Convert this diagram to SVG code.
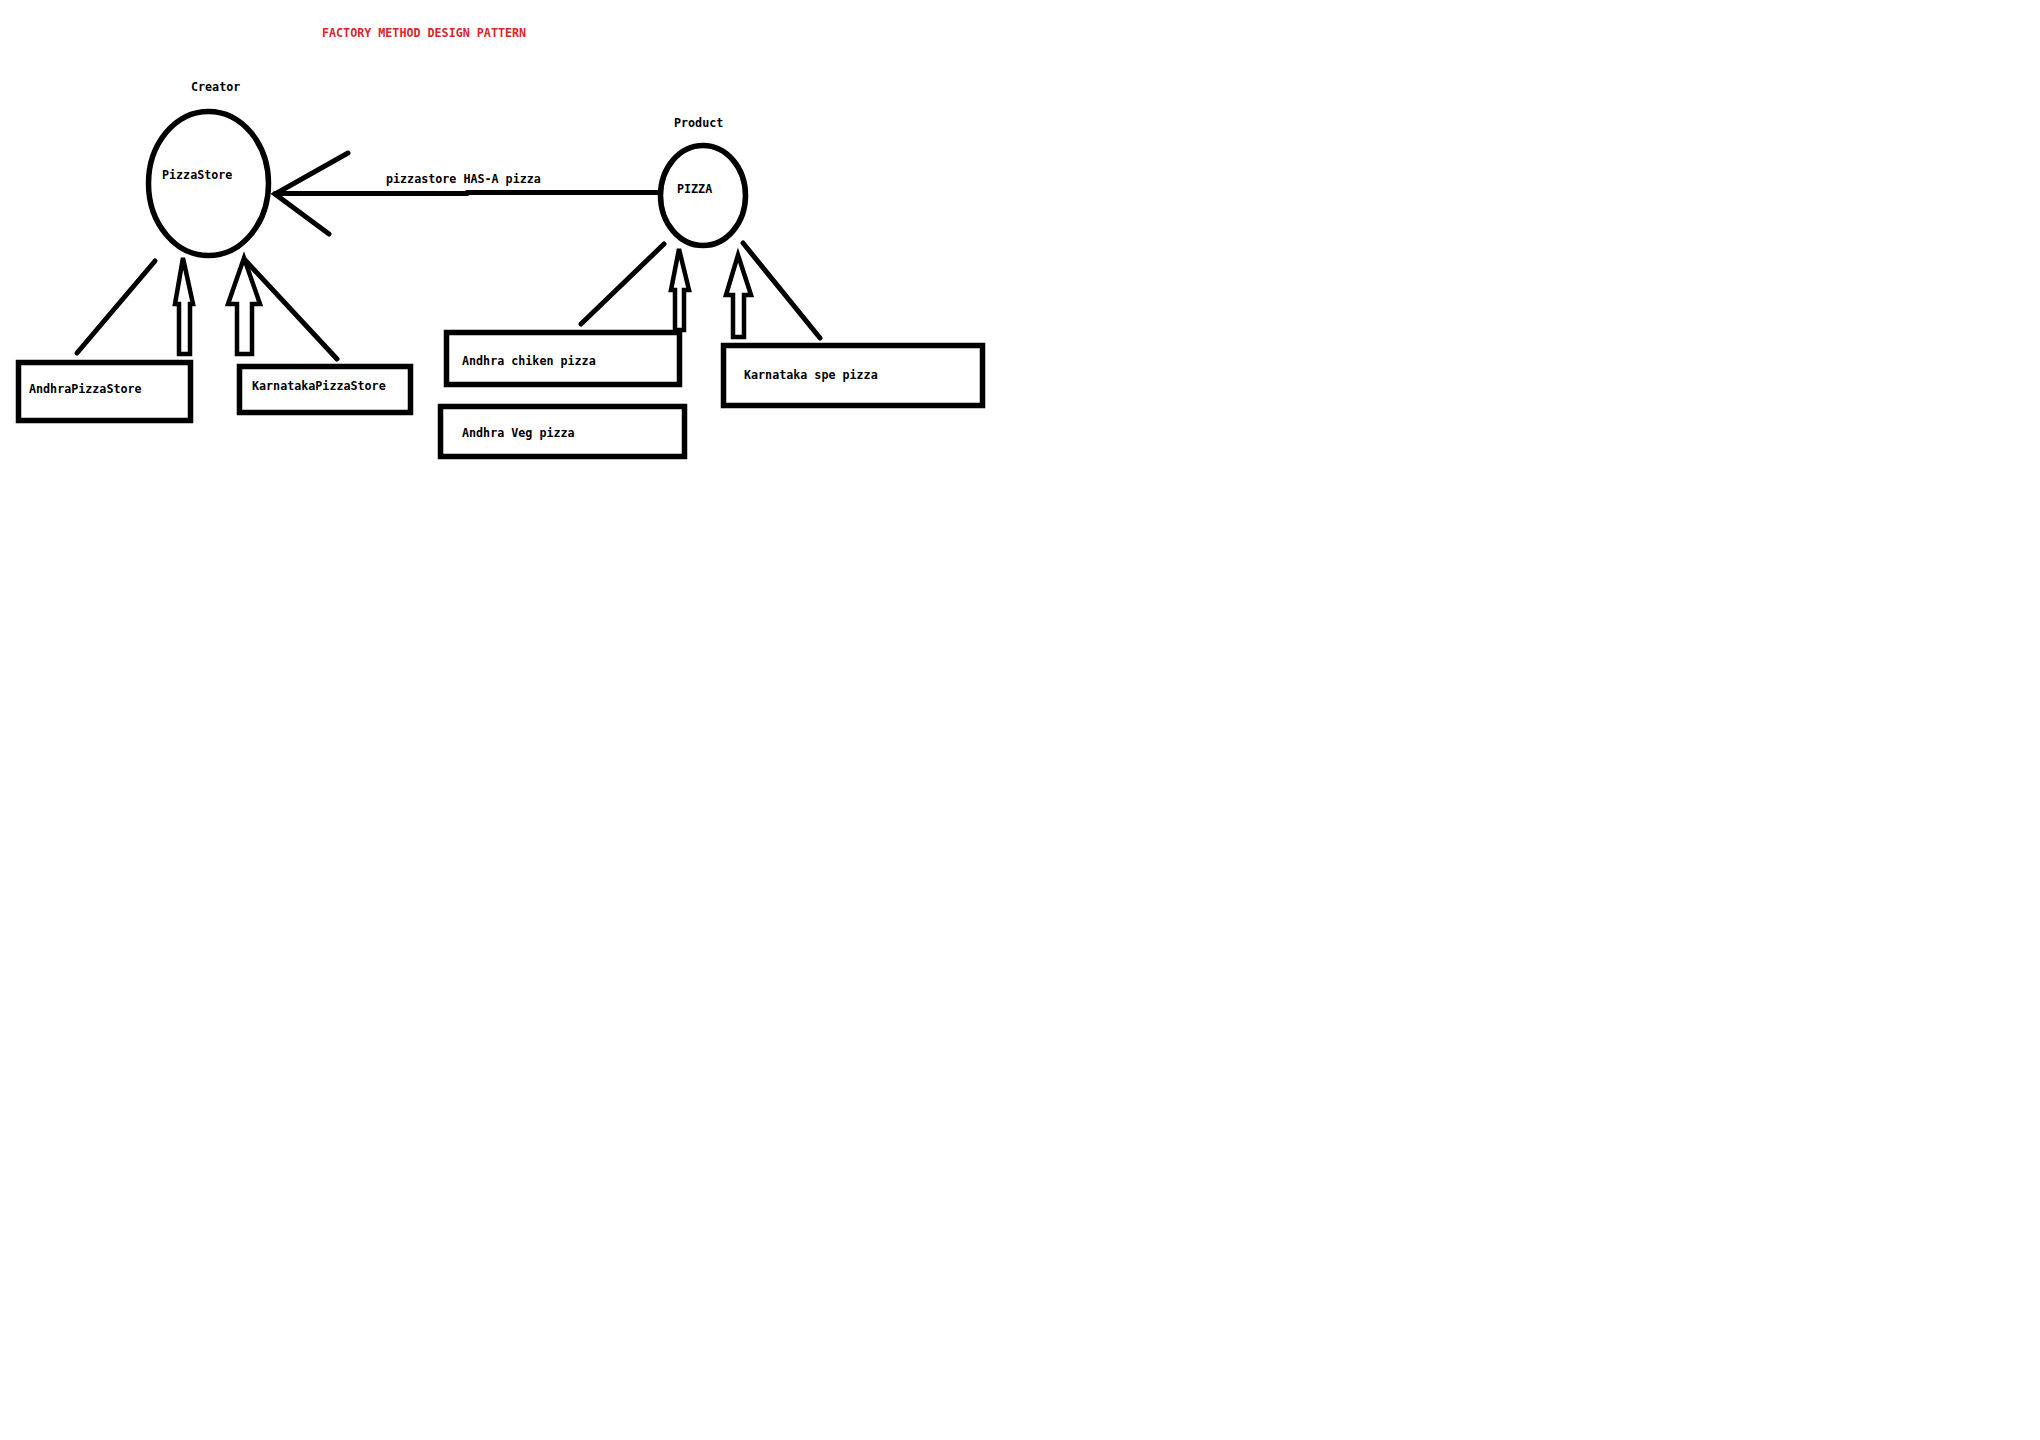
<svg xmlns="http://www.w3.org/2000/svg" width="2040" height="1440" viewBox="0 0 2040 1440">
<style>
.t{font-family:"DejaVu Sans Mono","Liberation Mono",monospace;font-size:11.7px;font-weight:bold;fill:#000}
.title{fill:#d9262b}
.shape{fill:#fff;stroke:#000;stroke-width:5.5}
.ln{fill:none;stroke:#000;stroke-width:5;stroke-linecap:round}
.hol{fill:#fff;stroke:#000;stroke-width:4.5;stroke-linejoin:miter}
</style>
<rect width="2040" height="1440" fill="#fff"/>
<text class="t title" x="322" y="37">FACTORY METHOD DESIGN PATTERN</text>
<text class="t" x="191" y="91">Creator</text>
<text class="t" x="674" y="127">Product</text>
<g id="connectors">
<line class="ln" x1="275" y1="193.5" x2="467" y2="193.5"/>
<line class="ln" x1="467" y1="192.5" x2="658" y2="192.5"/>
<polyline class="ln" points="348,153 275,194 329,234"/>
<text class="t" x="386" y="183">pizzastore HAS-A pizza</text>
<line class="ln" x1="155" y1="261" x2="77" y2="353"/>
<line class="ln" x1="245" y1="260" x2="337" y2="359"/>
<polygon class="hol" points="183,258 193,304 190,304 190,354 179,354 179,304 175,304"/>
<polygon class="hol" points="244,258 260,304 252,304 252,354 237,354 237,304 228,304"/>
<line class="ln" x1="664" y1="244" x2="581" y2="324"/>
<line class="ln" x1="743" y1="243" x2="820" y2="338"/>
<polygon class="hol" points="679,249 689,290 684,290 684,330 675,330 675,290 671,290"/>
<polygon class="hol" points="738,255 751,295 744,295 744,337 733,337 733,295 726,295"/>
</g>
<g id="pizzastore">
<ellipse class="shape" cx="208.5" cy="183.5" rx="60" ry="72"/>
<text class="t" x="162" y="179">PizzaStore</text>
</g>
<g id="pizza">
<ellipse class="shape" cx="703" cy="195.5" rx="42.5" ry="50"/>
<text class="t" x="677" y="193">PIZZA</text>
</g>
<g id="andhrapizzastore">
<rect class="shape" x="18.5" y="362.5" width="172" height="58"/>
<text class="t" x="29" y="393">AndhraPizzaStore</text>
</g>
<g id="karnatakapizzastore">
<rect class="shape" x="239.5" y="366.5" width="171" height="46"/>
<text class="t" x="252" y="390">KarnatakaPizzaStore</text>
</g>
<g id="andhrachiken">
<rect class="shape" x="446.5" y="332.5" width="233" height="52"/>
<text class="t" x="462" y="365">Andhra chiken pizza</text>
</g>
<g id="andhraveg">
<rect class="shape" x="440.5" y="406.5" width="244" height="50"/>
<text class="t" x="462" y="437">Andhra Veg pizza</text>
</g>
<g id="karnatakaspe">
<rect class="shape" x="723.5" y="345.5" width="259" height="60"/>
<text class="t" x="744" y="379">Karnataka spe pizza</text>
</g>
</svg>
